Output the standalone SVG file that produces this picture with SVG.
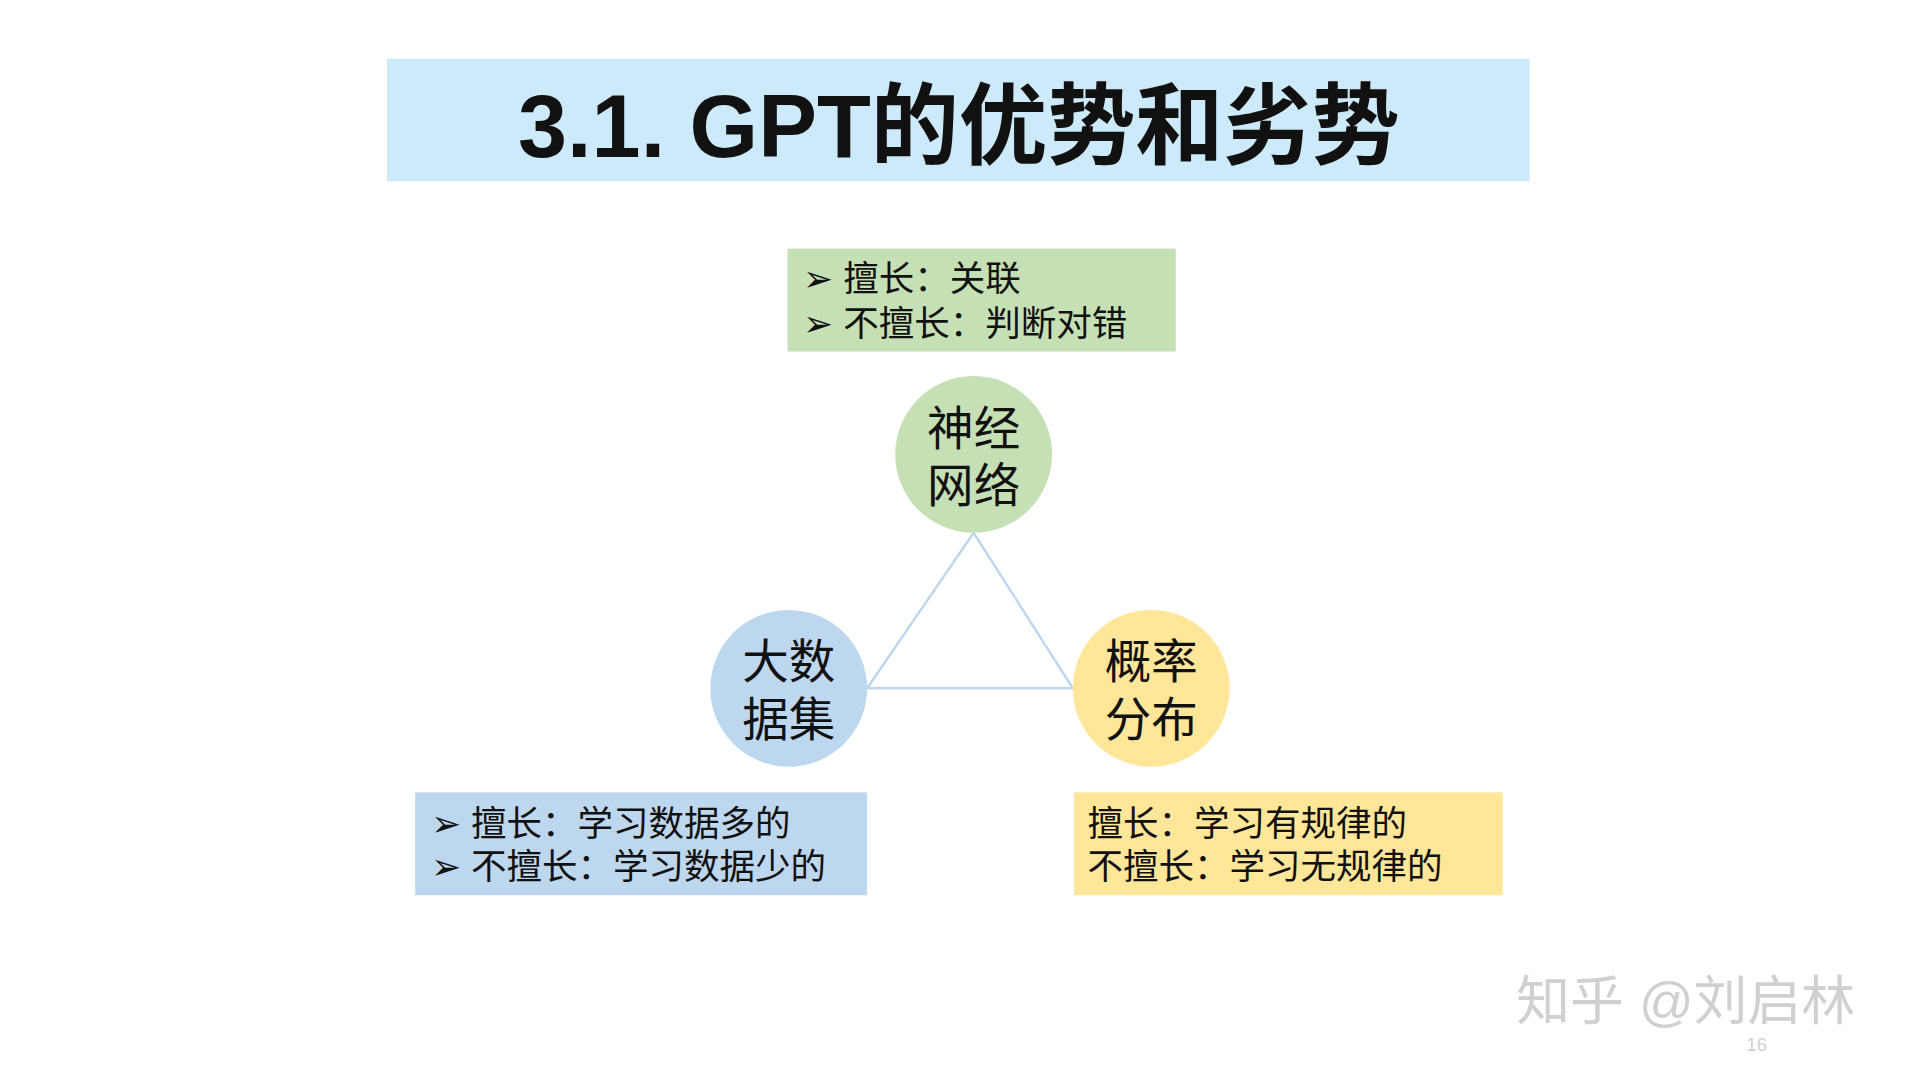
<svg xmlns="http://www.w3.org/2000/svg" width="1920" height="1080" viewBox="0 0 1920 1080">
<style>
.t{font-family:"Liberation Sans","Noto Sans CJK SC",sans-serif;fill:#111}
.b{font-size:29px}
.c{font-size:38px;text-anchor:middle}
.w{font-family:"Liberation Sans","Noto Sans CJK SC",sans-serif;fill:#d0d0d0}
</style>
<rect width="1920" height="1080" fill="#fff"/>
<g transform="scale(1.2247)">
<g id="title"><rect x="316" y="48" width="933" height="100" fill="#cdeafb"/>
<text class="t" x="783" y="128" font-size="72" font-weight="bold" text-anchor="middle">3.1. GPT的优势和劣势</text></g>
<g id="connectors" stroke="#bdd7ee" stroke-width="2" fill="none">
<path d="M795 435L708 562H876Z"/></g>
<g id="nn"><circle cx="795" cy="371" r="64" fill="#c5e0b4"/>
<text class="t c" x="795" y="363">神经</text><text class="t c" x="795" y="410">网络</text></g>
<g id="data"><circle cx="644" cy="562" r="64" fill="#bdd7ee"/>
<text class="t c" x="644" y="554">大数</text><text class="t c" x="644" y="601">据集</text></g>
<g id="prob"><circle cx="940" cy="562" r="64" fill="#ffe699"/>
<text class="t c" x="940" y="554">概率</text><text class="t c" x="940" y="601">分布</text></g>
<g id="nnbox"><rect x="643" y="203" width="317" height="84" fill="#c5e0b4"/>
<text class="t b" x="656" y="238">➢ 擅长：关联</text><text class="t b" x="656" y="274">➢ 不擅长：判断对错</text></g>
<g id="databox"><rect x="339" y="647" width="369" height="84" fill="#bdd7ee"/>
<text class="t b" x="352" y="683">➢ 擅长：学习数据多的</text><text class="t b" x="352" y="718">➢ 不擅长：学习数据少的</text></g>
<g id="probbox"><rect x="877" y="647" width="350" height="84" fill="#ffe699"/>
<text class="t b" x="888" y="683">擅长：学习有规律的</text><text class="t b" x="888" y="718">不擅长：学习无规律的</text></g>
<text class="w" x="1238" y="833" font-size="44">知乎 @刘启林</text>
<text class="w" x="1426" y="858" font-size="15" fill="#aaa">16</text>
</g>
</svg>
